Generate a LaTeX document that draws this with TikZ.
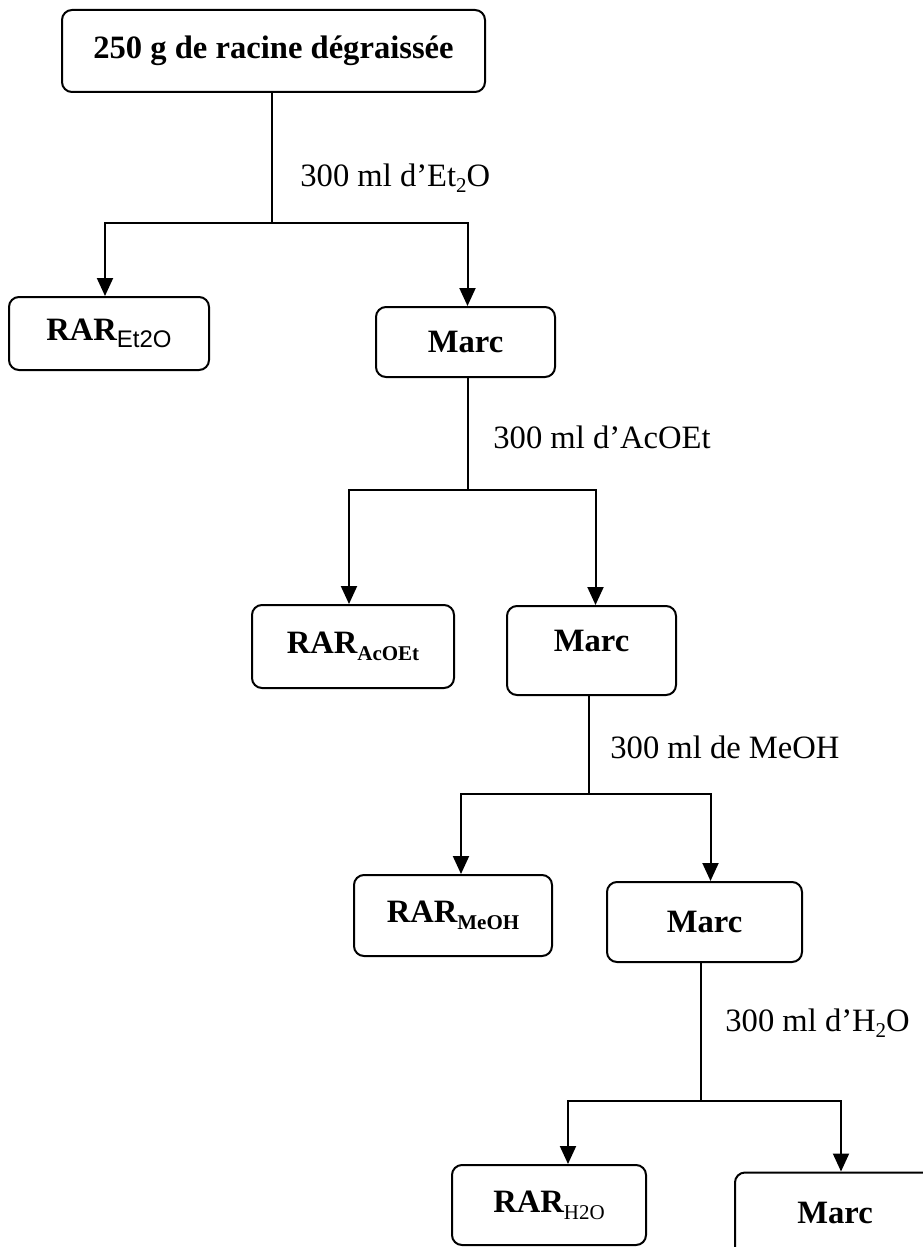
\documentclass[tikz,border=0pt]{standalone}
\usepackage{fontspec}
\setmainfont{Liberation Serif}
\newfontfamily\subsans{Liberation Sans}
\usetikzlibrary{arrows.meta}

% small lowered text for the extract names
\newcommand{\rarsub}[1]{\raisebox{-0.45ex}{\fontsize{10.5}{12}\selectfont #1}}
\newcommand{\chemsub}[1]{\raisebox{-0.4ex}{\fontsize{10.5}{12}\selectfont #1}}

\tikzset{
  box/.style={draw, rounded corners=5pt, line width=1pt, inner sep=0pt,
    font=\fontsize{16.3}{19}\selectfont\bfseries},
  solvent/.style={anchor=west, inner sep=0pt, font=\fontsize{16.3}{19}\selectfont},
  flow/.style={line width=1pt},
  feed/.style={flow, -{Triangle[width=8pt,length=9pt]}}
}

\begin{document}
\begin{tikzpicture}[x=0.5pt,y=-0.5pt]
\useasboundingbox (0,0) rectangle (922,1247);

% boxes
\node[box, minimum width=211.5pt, minimum height=41pt] (top) at (273.5,51) {250 g de racine dégraissée};
\node[box, minimum width=100pt, minimum height=36.5pt] (rEt) at (109,333.5) {RAR\rarsub{\subsans\mdseries\fontsize{12}{14}\selectfont Et2O}};
\node[box, minimum width=89.5pt, minimum height=35pt] (m1) at (465.5,342) {Marc};
\node[box, minimum width=101pt, minimum height=41.5pt] (rAc) at (353,646.5) {RAR\rarsub{AcOEt}};
\node[box, minimum width=84.5pt, minimum height=44.5pt, text depth=10pt] (m2) at (591.5,650.5) {Marc};
\node[box, minimum width=99pt, minimum height=40.5pt] (rMe) at (453,915.5) {RAR\rarsub{MeOH}};
\node[box, minimum width=97.5pt, minimum height=40pt] (m3) at (704.5,922) {Marc};
\node[box, minimum width=97pt, minimum height=40pt] (rH) at (549,1205) {RAR\rarsub{\mdseries H2O}};
\node[box, minimum width=100pt, minimum height=43pt, text depth=3pt] (m4) at (835,1215.5) {Marc};

% solvents
\node[solvent] (s1) at (300,178) {300 ml d’Et\chemsub{2}O};
\node[solvent] (s2) at (493,437) {300 ml d’AcOEt};
\node[solvent] (s3) at (610,747) {300 ml de MeOH};
\node[solvent] (s4) at (725,1023) {300 ml d’H\chemsub{2}O};

% stems and branches
\draw[flow] ([xshift=-0.75pt]top.south) -- ++(0,130) coordinate (j1);
\draw[feed] (j1) -| ([xshift=-2pt]rEt.north);
\draw[feed] (j1) -| ([xshift=1pt]m1.north);

\draw[flow] ([xshift=1pt]m1.south) -- ++(0,112) coordinate (j2);
\draw[feed] (j2) -| ([xshift=-2pt]rAc.north);
\draw[feed] (j2) -| ([xshift=2pt]m2.north);

\draw[flow] ([xshift=-1.5pt]m2.south) -- ++(0,98) coordinate (j3);
\draw[feed] (j3) -| ([xshift=4pt]rMe.north);
\draw[feed] (j3) -| ([xshift=3pt]m3.north);

\draw[flow] ([xshift=-2pt]m3.south) -- ++(0,138) coordinate (j4);
\draw[feed] (j4) -| ([xshift=9.5pt]rH.north);
\draw[feed] (j4) -| ([xshift=3pt]m4.north);
\end{tikzpicture}
\end{document}
